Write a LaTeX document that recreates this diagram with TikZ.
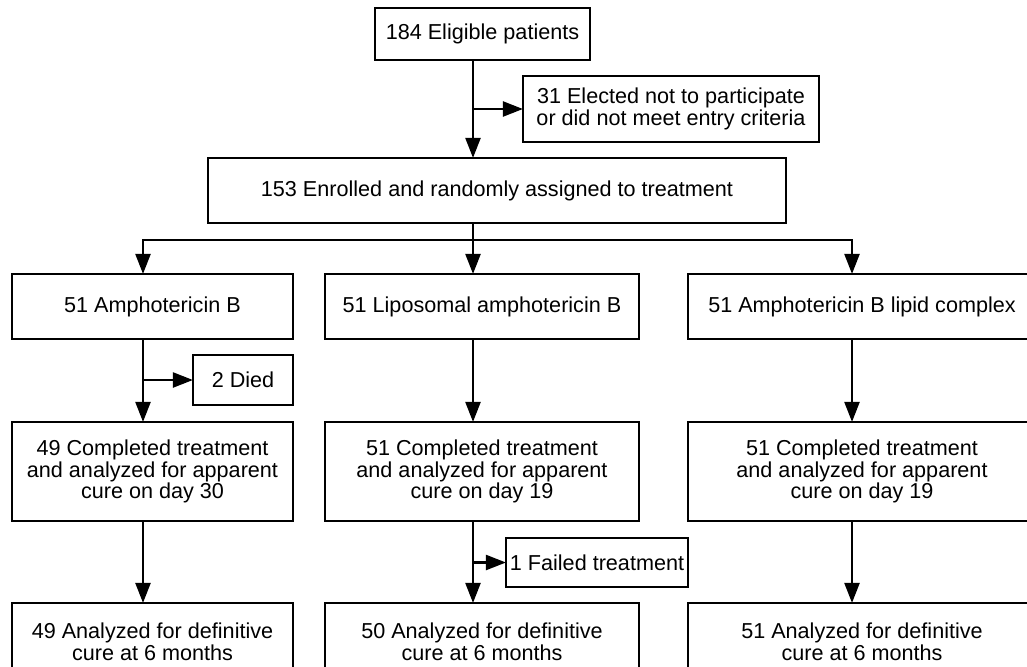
\documentclass[tikz,border=0pt]{standalone}
\usepackage{fontspec}
\setmainfont{Liberation Sans}
\usetikzlibrary{arrows.meta}

\tikzset{
  flowbox/.style={draw, line width=1.6pt, inner sep=0pt, outer sep=0pt, align=center,
    font=\fontsize{12.3}{12.4}\selectfont},
  link/.style={line width=1.6pt},
  arr/.style={link, -{Triangle[length=11.5pt,width=8.5pt]}}
}

\begin{document}
\begin{tikzpicture}[x=0.02cm, y=-0.02cm]

  \newcommand\PX{0.02cm}

  \useasboundingbox (0,0) rectangle (1027,666);
  \clip (0,0) rectangle (1027,666);

  % columns of the connectors
  \coordinate (colA) at (143,0);
  \coordinate (colL) at (473,0);
  \coordinate (colC) at (852,0);
  \coordinate (split) at (473,240);

  % screening
  \node[flowbox, minimum width=215*\PX, minimum height=52*\PX] (elig) at (482.5,34) {184 Eligible patients};
  \node[flowbox, minimum width=296*\PX, minimum height=66*\PX] (excl) at (671,109)
    {31 Elected not to participate\\or did not meet entry criteria};
  \node[flowbox, minimum width=578*\PX, minimum height=65*\PX] (enrol) at (497,190.5)
    {153 Enrolled and randomly assigned to treatment};

  % treatment arms
  \node[flowbox, minimum width=281*\PX, minimum height=65*\PX] (amb)  at (152.5,306.5) {51 Amphotericin B};
  \node[flowbox, minimum width=314*\PX, minimum height=65*\PX] (lamb) at (482,306.5) {51 Liposomal amphotericin B};
  \node[flowbox, minimum width=348*\PX, minimum height=65*\PX] (ablc) at (862,306.5) {51 Amphotericin B lipid complex};

  \node[flowbox, minimum width=100*\PX, minimum height=50*\PX] (died) at (243,380) {2 Died};

  % day 30 / day 19
  \node[flowbox, minimum width=281*\PX, minimum height=99*\PX] (compA) at (152.5,471.5)
    {49 Completed treatment\\and analyzed for apparent\\cure on day 30};
  \node[flowbox, minimum width=314*\PX, minimum height=99*\PX] (compL) at (482,471.5)
    {51 Completed treatment\\and analyzed for apparent\\cure on day 19};
  \node[flowbox, minimum width=348*\PX, minimum height=99*\PX] (compC) at (862,471.5)
    {51 Completed treatment\\and analyzed for apparent\\cure on day 19};

  \node[flowbox, minimum width=182*\PX, minimum height=49*\PX] (failed) at (597,562.5) {1 Failed treatment};

  % 6 months
  \node[flowbox, minimum width=281*\PX, minimum height=77*\PX] (anaA) at (152.5,641.5)
    {49 Analyzed for definitive\\cure at 6 months};
  \node[flowbox, minimum width=314*\PX, minimum height=77*\PX] (anaL) at (482,641.5)
    {50 Analyzed for definitive\\cure at 6 months};
  \node[flowbox, minimum width=348*\PX, minimum height=77*\PX] (anaC) at (862,641.5)
    {51 Analyzed for definitive\\cure at 6 months};

  \draw[arr] (elig.south -| colL) -- (enrol.north -| colL); %% elig->enrol
  \draw[arr] (excl.west -| colL) -- (excl.west);            %% ->excl

  \draw[link] (enrol.south -| colL) -- (split);
  \draw[arr] (split) -| (amb.north -| colA);   %% ->amb
  \draw[arr] (split) -- (lamb.north -| colL);  %% ->lamb
  \draw[arr] (split) -| (ablc.north -| colC);  %% ->ablc

  \draw[arr] (amb.south -| colA) -- (compA.north -| colA);  %% amb->compA
  \draw[arr] (died.west -| colA) -- (died.west);            %% ->died
  \draw[arr] (lamb.south -| colL) -- (compL.north -| colL); %% lamb->compL
  \draw[arr] (ablc.south -| colC) -- (compC.north -| colC); %% ablc->compC

  \draw[arr] (compA.south -| colA) -- (anaA.north -| colA); %% compA->anaA
  \draw[arr] (compL.south -| colL) -- (anaL.north -| colL); %% compL->anaL
  \draw[arr] (failed.west -| colL) -- (failed.west);        %% ->failed
  \draw[arr] (compC.south -| colC) -- (anaC.north -| colC); %% compC->anaC

\end{tikzpicture}
\end{document}
